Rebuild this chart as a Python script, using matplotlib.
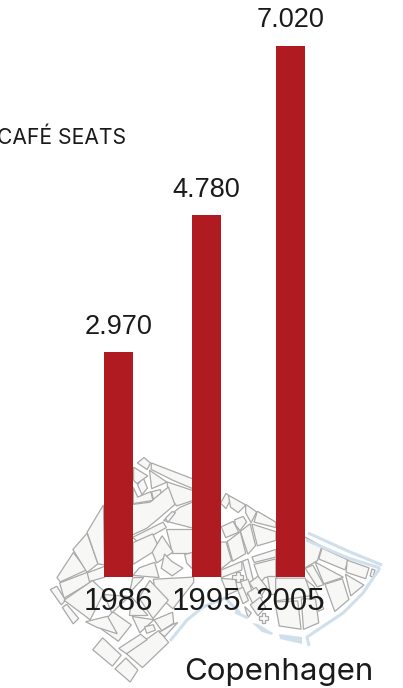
import matplotlib
matplotlib.use("Agg")
import matplotlib.pyplot as plt
from matplotlib.patches import Polygon

years = ["1986", "1995", "2005"]
seats = [2970, 4780, 7020]
seat_labels = ["2.970", "4.780", "7.020"]
bar_x = [118.5, 206.5, 290.5]

W, H = 403, 688
red = "#b01a21"
ink = "#1a1a1a"
water = "#cfe0ec"
block_edge = "#a9a9a9"
block_fill = "#f7f7f6"

# backdrop map, traced in image pixels
blocks = [
    [(58,577),(73,554),(85,570),(61,581)], [(74,550),(87,535),(97,563),(87,571)],
    [(88,533),(103,508),(104,563),(98,562)], [(61,583),(87,573),(90,582),(65,597)],
    [(88,573),(104,567),(104,577),(90,581)], [(51,590),(57,587),(65,600),(61,604)],
    [(63,608),(67,605),(78,618),(73,623)], [(66,600),(92,582),(103,592),(90,618)],
    [(94,650),(103,639),(120,655),(112,665)], [(116,669),(126,659),(137,670),(130,681)],
    [(128,653),(158,632),(167,643),(143,666)], [(120,648),(140,635),(146,640),(127,653)],
    [(144,458),(150,463),(147,469),(138,463)], [(153,464),(192,479),(192,488),(173,480),(153,470)],
    [(150,471),(166,482),(152,488)], [(168,483),(192,491),(192,500),(177,505),(170,497)],
    [(138,485),(143,478),(147,488),(142,494)], [(152,492),(160,490),(162,497),(154,500)],
    [(134,505),(150,503),(167,489),(173,505),(158,518),(147,527),(134,533)],
    [(180,508),(192,503),(192,527),(165,520)], [(166,518),(172,512),(175,513),(168,522)],
    [(134,537),(162,523),(165,528),(140,542)], [(134,543),(152,535),(158,548),(134,563)],
    [(167,530),(192,530),(192,552),(173,552)], [(162,537),(172,552),(157,562),(153,552)],
    [(140,568),(154,563),(158,577),(134,575)], [(165,555),(172,562),(182,568),(172,575),(162,568)],
    [(185,555),(192,553),(192,568),(187,563)], [(133,578),(143,578),(130,592)],
    [(155,580),(192,578),(192,583),(173,607),(157,593)], [(140,598),(150,582),(167,600),(153,617)],
    [(113,613),(130,625),(118,640),(100,627)], [(133,617),(153,620),(140,632)],
    [(87,622),(107,617),(116,633),(97,627)], [(155,620),(172,613),(173,623),(162,630)],
    [(160,632),(172,625),(177,623),(165,636)], [(145,627),(153,625),(155,630),(147,633)],
    [(226,494),(231,498),(226,508),(221,503)], [(229,496),(245,505),(238,512),(231,507)],
    [(246,505),(256,512),(251,522),(246,513)], [(258,512),(275,522),(275,527),(255,522)],
    [(253,525),(275,532),(275,540),(258,545)], [(235,520),(243,517),(246,522),(240,530),(236,525)],
    [(222,527),(233,522),(238,532),(226,537)], [(241,532),(250,525),(255,545),(248,553)],
    [(228,542),(240,533),(245,553),(233,560)], [(221,543),(226,543),(231,560),(221,568)],
    [(253,557),(275,550),(275,557),(255,562)], [(255,565),(275,560),(275,577),(265,577),(261,582)],
    [(243,562),(248,560),(253,580),(248,582)], [(222,570),(241,562),(241,570),(222,577)],
    [(250,583),(258,577),(266,587),(260,597)], [(241,582),(248,580),(252,592),(245,595)],
    [(248,593),(256,588),(262,597),(253,603)], [(238,590),(243,588),(248,600),(243,603)],
    [(251,605),(260,598),(265,607),(258,615)], [(245,607),(251,613),(248,617)],
    [(276,603),(297,602),(300,628),(280,625)], [(267,577),(276,577),(276,593),(270,593)],
    [(305,538),(321,547),(317,560),(305,567)], [(323,549),(347,560),(344,569),(320,559)],
    [(348,561),(368,568),(365,578),(347,572)],
    [(316,563),(342,577),(324,583)], [(306,569),(313,566),(323,584),(317,586)],
    [(346,575),(363,585),(351,595)], [(326,585),(342,580),(348,599),(335,610)],
    [(305,580),(314,587),(323,608),(318,610)], [(302,600),(315,600),(318,622),(304,628)],
    [(134,488),(138,497),(150,492),(152,500),(134,503)], [(134,468),(147,476),(137,483),(134,480)],
    [(105,595),(128,597),(112,612)], [(132,598),(147,615),(130,615)],
    [(222,579),(235,580),(237,590),(228,594)], [(277,579),(304,579),(310,595),(277,600)],
]
crosses = [
    [(372,569),(375,570),(373,577),(370,576)],
    [(232,575),(236,575),(236,572),(240,572),(240,575),(243,575),(243,579),(240,579),(240,582),(236,582),(236,579),(232,579)],
    [(259,616),(262,616),(262,613),(265,613),(265,616),(268,616),(268,620),(265,620),(265,623),(262,623),(262,620),(259,620)],
]
canals = [
    [(308,533),(350,552),(382,565)], [(306,540),(348,558),(380,568)],
    [(380,568),(363,593),(343,613),(307,637),(309,646)],
    [(235,612),(248,618)], [(170,641),(187,620),(203,607),(225,598),(240,613)],
]
quays = [
    [(279,634),(302,637),(302,644),(280,639)],
    [(252,623),(258,624),(273,633),(272,635),(262,632)],
]


def grow(pts, k=1.09):
    cx = sum(p[0] for p in pts) / len(pts)
    cy = sum(p[1] for p in pts) / len(pts)
    return [(cx + (x - cx) * k, cy + (y - cy) * k) for x, y in pts]


fig = plt.figure(figsize=(W / 100, H / 100), dpi=100)

bg = fig.add_axes([0, 0, 1, 1])
bg.set_xlim(0, W)
bg.set_ylim(H, 0)
bg.axis("off")
for c in canals:
    bg.plot(*zip(*c), color=water, lw=2.2, solid_capstyle="butt")
for q in quays:
    bg.add_patch(Polygon(q, closed=True, fc=water, ec="none"))
for b in blocks:
    bg.add_patch(Polygon(grow(b), closed=True, fc=block_fill, ec=block_edge, lw=0.9))
for b in crosses:
    bg.add_patch(Polygon(b, closed=True, fc=block_fill, ec=block_edge, lw=0.9))

# bars from y=577 px up to y=46 px
ax = fig.add_axes([0, (H - 577) / H, 1, (577 - 46) / H])
ax.patch.set_alpha(0)
ax.set_xlim(0, W)
ax.set_ylim(0, max(seats))
bars = ax.bar(bar_x, seats, width=29, color=red)
ax.bar_label(bars, labels=seat_labels, padding=9, fontsize=19.5, family="Liberation Sans", color=ink)
for s in ax.spines.values():
    s.set_visible(False)
ax.set_yticks([])
ax.set_xticks(bar_x)
ax.set_xticklabels(years, fontsize=22.5, family="Liberation Sans", color=ink)
ax.tick_params(axis="x", length=0, pad=7)

fig.text(-3 / W, 1 - 138 / H, "CAFÉ SEATS", fontsize=15.2, family="Inter", color=ink, va="center", ha="left")
fig.text(373 / W, 1 - 672 / H, "Copenhagen", fontsize=22.5, family="Inter", color=ink, va="center", ha="right")

plt.savefig("out.png", dpi=100)
